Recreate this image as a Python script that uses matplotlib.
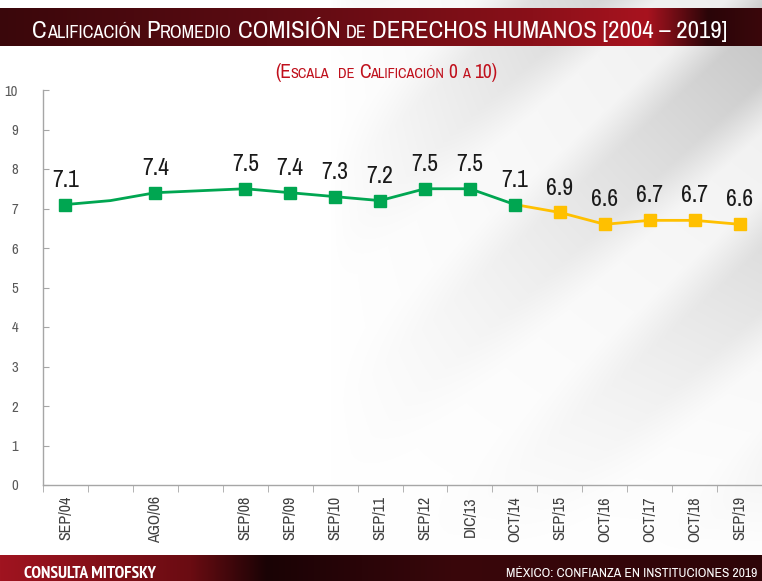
import numpy as np
import matplotlib
matplotlib.use("Agg")
import matplotlib.pyplot as plt
from matplotlib import font_manager
from matplotlib.font_manager import FontProperties

# ---------------- data ----------------
periods = ["SEP/04", "", "AGO/06", "", "SEP/08", "SEP/09", "SEP/10", "SEP/11",
           "SEP/12", "DIC/13", "OCT/14", "SEP/15", "OCT/16", "OCT/17", "OCT/18", "SEP/19"]
# green series (2004-2014); 2005 has an unlabeled intermediate value, 2007 missing
green_x = [0, 1, 2, 4, 5, 6, 7, 8, 9, 10]
green_y = [7.1, 7.2, 7.4, 7.5, 7.4, 7.3, 7.2, 7.5, 7.5, 7.1]
green_marked = [True, False, True, True, True, True, True, True, True, True]
# yellow series (2014-2019)
yellow_x = [10, 11, 12, 13, 14, 15]
yellow_y = [7.1, 6.9, 6.6, 6.7, 6.7, 6.6]

title = "Calificación Promedio COMISIÓN de DERECHOS HUMANOS [2004 – 2019]"
subtitle = "(Escala de Calificación 0 a 10)"
footer_left = "CONSULTA MITOFSKY"
footer_right = "MÉXICO: CONFIANZA EN INSTITUCIONES 2019"

GREEN = "#00A651"
YELLOW = "#FFC000"

# ---------------- fonts ----------------
def pick(bold=False):
    best = None
    for f in font_manager.fontManager.ttflist:
        nm = f.name
        st = str(f.stretch).lower()
        narrow = ("condensed" in st) or ("Condensed" in nm) or ("Narrow" in nm) or \
                 ("condensed" in f.fname.lower()) or ("narrow" in f.fname.lower())
        if not narrow or f.style != "normal":
            continue
        w = f.weight if isinstance(f.weight, int) else (700 if "bold" in str(f.weight) else 400)
        if bold != (w >= 600):
            continue
        score = 0 if "Narrow" in nm or "narrow" in f.fname.lower() else 1
        if best is None or score < best[0]:
            best = (score, f.fname)
    if best:
        return FontProperties(fname=best[1])
    return FontProperties(family="DejaVu Sans", weight="bold" if bold else "normal")

FP = pick(False)
FPB = pick(True)

W, H = 762, 581
fig = plt.figure(figsize=(W / 100, H / 100), dpi=100)

# ---------------- background ----------------
bg = fig.add_axes([0, 0, 1, 1], zorder=-10)
bg.set_axis_off()
xx, yy = np.meshgrid(np.arange(W), np.arange(H))
img = np.ones((H, W, 3))
d = (xx + 1.1 * yy)  # diagonal coordinate
shade = np.clip((xx - 330) / 430, 0, 1) ** 0.8 * np.clip((560 - yy) / 560, 0, 1)
band = np.clip(np.sin(d / 40.0) * 1.5, -1, 1)
g = 1 - shade * (0.15 + 0.08 * band)
img *= g[..., None]
bg.imshow(img, extent=[0, W, H, 0], aspect="auto")

def bar_gradient(y0, y1, stops):
    xs = np.linspace(0, 1, W)
    cols = np.zeros((1, W, 3))
    pos = [s[0] for s in stops]
    for c in range(3):
        cols[0, :, c] = np.interp(xs, pos, [s[1][c] for s in stops])
    bg.imshow(cols, extent=[0, W, y1, y0], aspect="auto", zorder=1)

hx = lambda h: tuple(int(h[i:i + 2], 16) / 255 for i in (1, 3, 5))
bar_gradient(8, 46, [(0, hx("#3a070b")), (0.35, hx("#5c0b12")), (0.7, hx("#8a1019")),
                     (0.85, hx("#a8131f")), (0.93, hx("#2a0508")), (1, hx("#3a070b"))])
bar_gradient(555, 581, [(0, hx("#a01420")), (0.25, hx("#6a0c12")), (0.35, hx("#1a0305")),
                        (0.6, hx("#3a070b")), (1, hx("#2e0508"))])
bg.set_xlim(0, W)
bg.set_ylim(H, 0)

renderer = fig.canvas.get_renderer()


def text_width(s, sz, fp):
    t = fig.text(0, 0, s, fontproperties=fp, fontsize=sz)
    w = t.get_window_extent(renderer).width
    t.remove()
    return w


# ---------------- small caps helper ----------------
def smallcaps(cx, cy, text, big, ratio, color, fp, target=None):
    runs = []
    for ch in text:
        sm = ch.islower()
        c = ch.upper()
        if runs and runs[-1][1] == sm:
            runs[-1][0] += c
        else:
            runs.append([c, sm])

    def layout(bigsz):
        out = []
        for s, sm in runs:
            sz = bigsz * ratio if sm else bigsz
            sp = text_width("I I", sz, fp) - text_width("II", sz, fp)
            core = s.strip(" ")
            lead = len(s) - len(s.lstrip(" "))
            trail = len(s) - len(s.rstrip(" "))
            out.append((core, sz, lead * sp, text_width(core, sz, fp) if core else 0, trail * sp))
        return out

    lay = layout(big)
    total = sum(a + b + c for _, _, a, b, c in lay)
    if target is not None and total > target:
        big = big * target / total
        lay = layout(big)
        total = sum(a + b + c for _, _, a, b, c in lay)
    x = cx - total / 2
    for core, sz, a, b, c in lay:
        x += a
        if core:
            fig.text(x / W, 1 - cy / H, core, fontproperties=fp, fontsize=sz,
                     color=color, ha="left", va="baseline")
        x += b + c


fig.canvas.draw()
smallcaps(380, 38, title, 21, 0.74, "white", FP, target=694)
smallcaps(386, 78, subtitle, 14, 0.74, "#C0101C", FP, target=232)

fig.text(24 / W, 1 - 578 / H, footer_left, fontproperties=FPB, fontsize=12.5,
         color="white", ha="left", va="baseline")
fr_size = 12
fr_w = text_width(footer_right, fr_size, FP)
if fr_w > 250:
    fr_size = fr_size * 250 / fr_w
fig.text(757 / W, 1 - 577 / H, footer_right, fontproperties=FP, fontsize=fr_size,
         color="white", ha="right", va="baseline")

# ---------------- main axes ----------------
ax = fig.add_axes([43 / W, 1 - 485 / H, (W - 43) / W, (485 - 90) / H])
ax.patch.set_alpha(0)
ax.set_xlim(-0.5, len(periods) - 0.5)
ax.set_ylim(0, 10)

for s in ["top", "right"]:
    ax.spines[s].set_visible(False)
for s in ["left", "bottom"]:
    ax.spines[s].set_color("#a6a6a6")
    ax.spines[s].set_linewidth(1.0)

ax.set_yticks(range(0, 11))
ax.set_yticklabels([str(i) for i in range(0, 11)], fontproperties=FP, fontsize=10.5,
                   color="#595959")
ax.tick_params(axis="y", direction="in", length=4, color="#a6a6a6", pad=18)

ax.set_xticks(np.arange(len(periods)))
ax.set_xticklabels(periods, rotation=90, fontproperties=FP, fontsize=11.5, color="#404040")
ax.tick_params(axis="x", length=0, pad=8)
ax.set_xticks(np.arange(len(periods) + 1) - 0.5, minor=True)
ax.tick_params(axis="x", which="minor", direction="out", length=5, color="#a6a6a6")

ax.plot(green_x, green_y, color=GREEN, lw=2, zorder=3)
ax.plot(yellow_x, yellow_y, color=YELLOW, lw=2, zorder=3)
mgx = [x for x, m in zip(green_x, green_marked) if m]
mgy = [y for y, m in zip(green_y, green_marked) if m]
ax.plot(yellow_x[1:], yellow_y[1:], ls="none", marker="s", ms=9, color=YELLOW, zorder=4)
ax.plot(mgx, mgy, ls="none", marker="s", ms=9, color=GREEN, zorder=5)

labels_x = mgx + yellow_x[1:]
labels_y = mgy + yellow_y[1:]
for x, y in zip(labels_x, labels_y):
    ax.annotate(f"{y:.1f}", (x, y), xytext=(0, 10), textcoords="offset points",
                ha="center", va="bottom", fontproperties=FP, fontsize=17, color="#1a1a1a")

fig.savefig("out.png", dpi=100)
